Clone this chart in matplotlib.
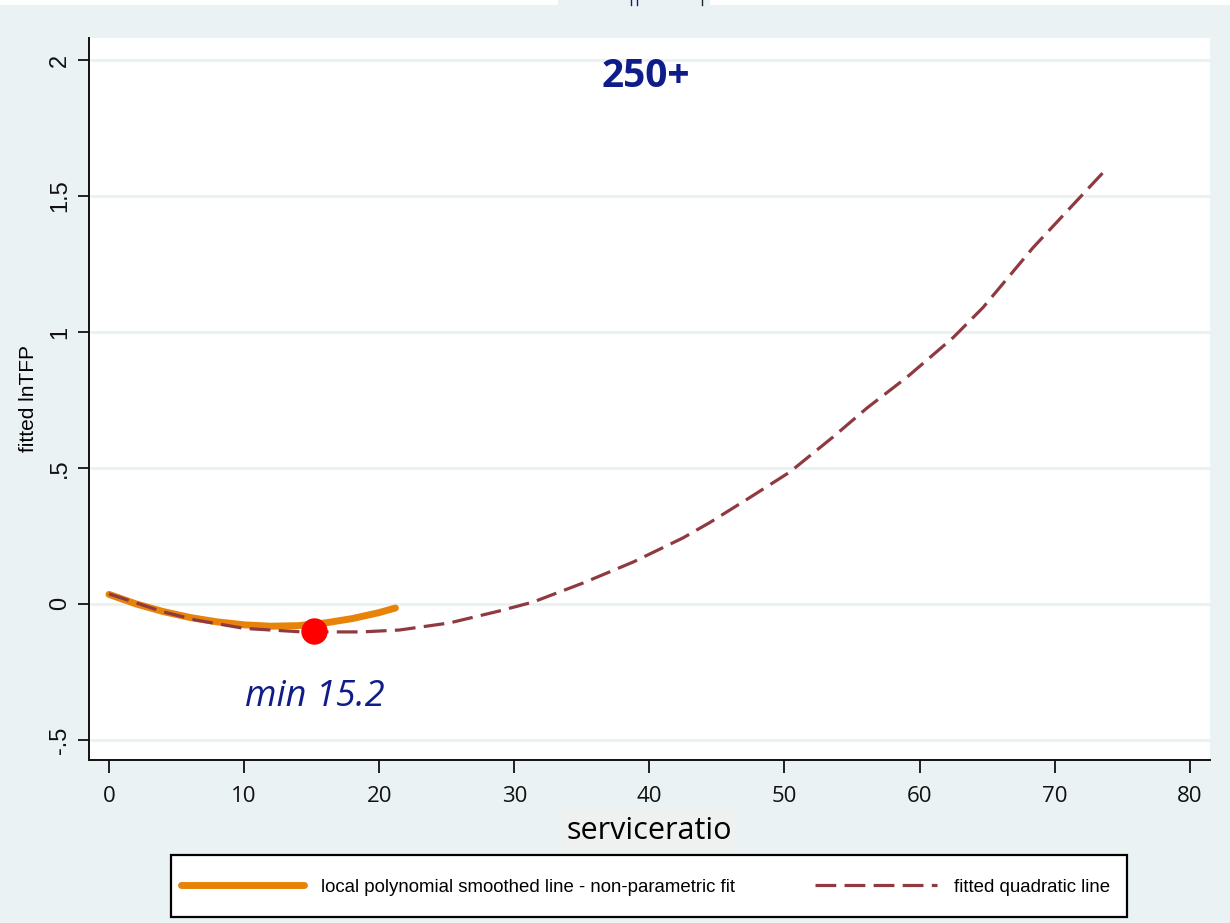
import matplotlib
matplotlib.use('Agg')
import matplotlib.pyplot as plt
import matplotlib.patches as mpatches
from matplotlib.lines import Line2D

# local polynomial smooth (lpoly) of fitted lnTFP on serviceratio
lpoly_x = [0, 2, 4, 6, 8, 10, 12, 14, 16, 18, 20, 21.2]
lpoly_y = [0.035, 0.0, -0.028, -0.05, -0.066, -0.077, -0.082, -0.08, -0.07, -0.054, -0.032, -0.015]

# fitted quadratic (qfit)
qfit_x = [0, 4, 6.4, 10, 14.3, 18.7, 21.5, 25.2, 28.9, 31.4, 35.1, 38.8, 42.5,
          44.5, 47.4, 50.4, 53.6, 56.1, 59.1, 62.5, 64.7, 68.4, 73.9]
qfit_y = [0.037, -0.029, -0.059, -0.09, -0.103, -0.103, -0.096, -0.07, -0.026, 0.007,
          0.077, 0.154, 0.243, 0.30, 0.39, 0.485, 0.614, 0.72, 0.835, 0.98, 1.09, 1.31, 1.603]

# turning point of the quadratic
min_x = 15.2
min_y = -0.099

yticks = [-0.5, 0, 0.5, 1, 1.5, 2]
ytick_labels = ['-.5', '0', '.5', '1', '1.5', '2']
xticks = [0, 10, 20, 30, 40, 50, 60, 70, 80]

BG = '#EAF2F3'
NAVY = '#0F1D8A'
ORANGE = '#E8830A'
CRANBERRY = '#8E3A40'

fig = plt.figure(figsize=(12.3, 9.23), dpi=100, facecolor=BG)
W, H = 1230, 923
ax = fig.add_axes([89 / W, 1 - 760 / H, (1210 - 89) / W, (760 - 38) / H])
ax.set_facecolor('white')

ax.plot(lpoly_x, lpoly_y, color=ORANGE, lw=5, solid_capstyle='round', zorder=3,
        label='local polynomial smoothed line - non-parametric fit')
ax.plot(qfit_x, qfit_y, color=CRANBERRY, lw=2.3, dashes=(6.5, 2.6), zorder=4,
        label='fitted quadratic line')
ax.plot([min_x], [min_y], 'o', color='#FF0000', markersize=19, markeredgewidth=0, zorder=5)

ax.text(min_x, -0.342, f'min {min_x}', ha='center', va='center', fontsize=26,
        style='italic', color=NAVY, family='Open Sans')
ax.text(39.75, 1.94, '250+', ha='center', va='center', fontsize=28,
        fontweight='bold', color=NAVY, family='Open Sans')

ax.set_xlim(-1.48, 81.5)
ax.set_ylim(-0.574, 2.081)

ax.set_yticks(yticks)
ax.set_yticklabels(ytick_labels, rotation=90, va='center', fontsize=17,
                   family='Liberation Sans')
ax.set_xticks(xticks)
ax.set_xticklabels([str(t) for t in xticks], fontsize=16, family='Open Sans')
ax.tick_params(axis='y', length=8, width=1.3, pad=5, colors='#111111')
ax.tick_params(axis='x', length=9, width=1.3, pad=10, colors='#111111')

ax.set_ylabel('fitted lnTFP', fontsize=15, family='Liberation Sans', labelpad=8)
ax.set_xlabel('serviceratio', fontsize=22, family='Open Sans', labelpad=6,
              bbox=dict(facecolor='#EEF1EF', edgecolor='none', pad=4))

ax.grid(axis='y', color='#EAF1F3', lw=2, zorder=0)
ax.set_axisbelow(True)
for side in ('top', 'right'):
    ax.spines[side].set_visible(False)
for side in ('left', 'bottom'):
    ax.spines[side].set_linewidth(1.4)
    ax.spines[side].set_color('#111111')

# legend box below the plot
fig.add_artist(mpatches.Rectangle((171 / W, 1 - 917 / H), (1127 - 171) / W, 62 / H,
                                  transform=fig.transFigure, facecolor='white',
                                  edgecolor='black', lw=1.6, zorder=1))
leg = fig.legend(loc='center left', bbox_to_anchor=(181 / W, 1 - 887 / H), ncol=2,
                 frameon=False, prop={'family': 'Liberation Sans', 'size': 13.4},
                 handlelength=6.6, handletextpad=0.9, columnspacing=4.3,
                 borderpad=0, borderaxespad=0)
leg.set_zorder(2)

# thin strip along the top edge
fig.add_artist(mpatches.Rectangle((0, 1 - 5 / H), 558 / W, 5 / H, transform=fig.transFigure,
                                  facecolor='white', edgecolor='none'))
fig.add_artist(mpatches.Rectangle((710 / W, 1 - 5 / H), 520 / W, 5 / H, transform=fig.transFigure,
                                  facecolor='white', edgecolor='none'))
for xp, c in ((631, NAVY), (637, NAVY), (702, '#222222')):
    fig.add_artist(Line2D([xp / W, xp / W], [1 - 5 / H, 1], transform=fig.transFigure,
                          color=c, lw=1))

fig.savefig('out.png', dpi=100, facecolor=BG)
